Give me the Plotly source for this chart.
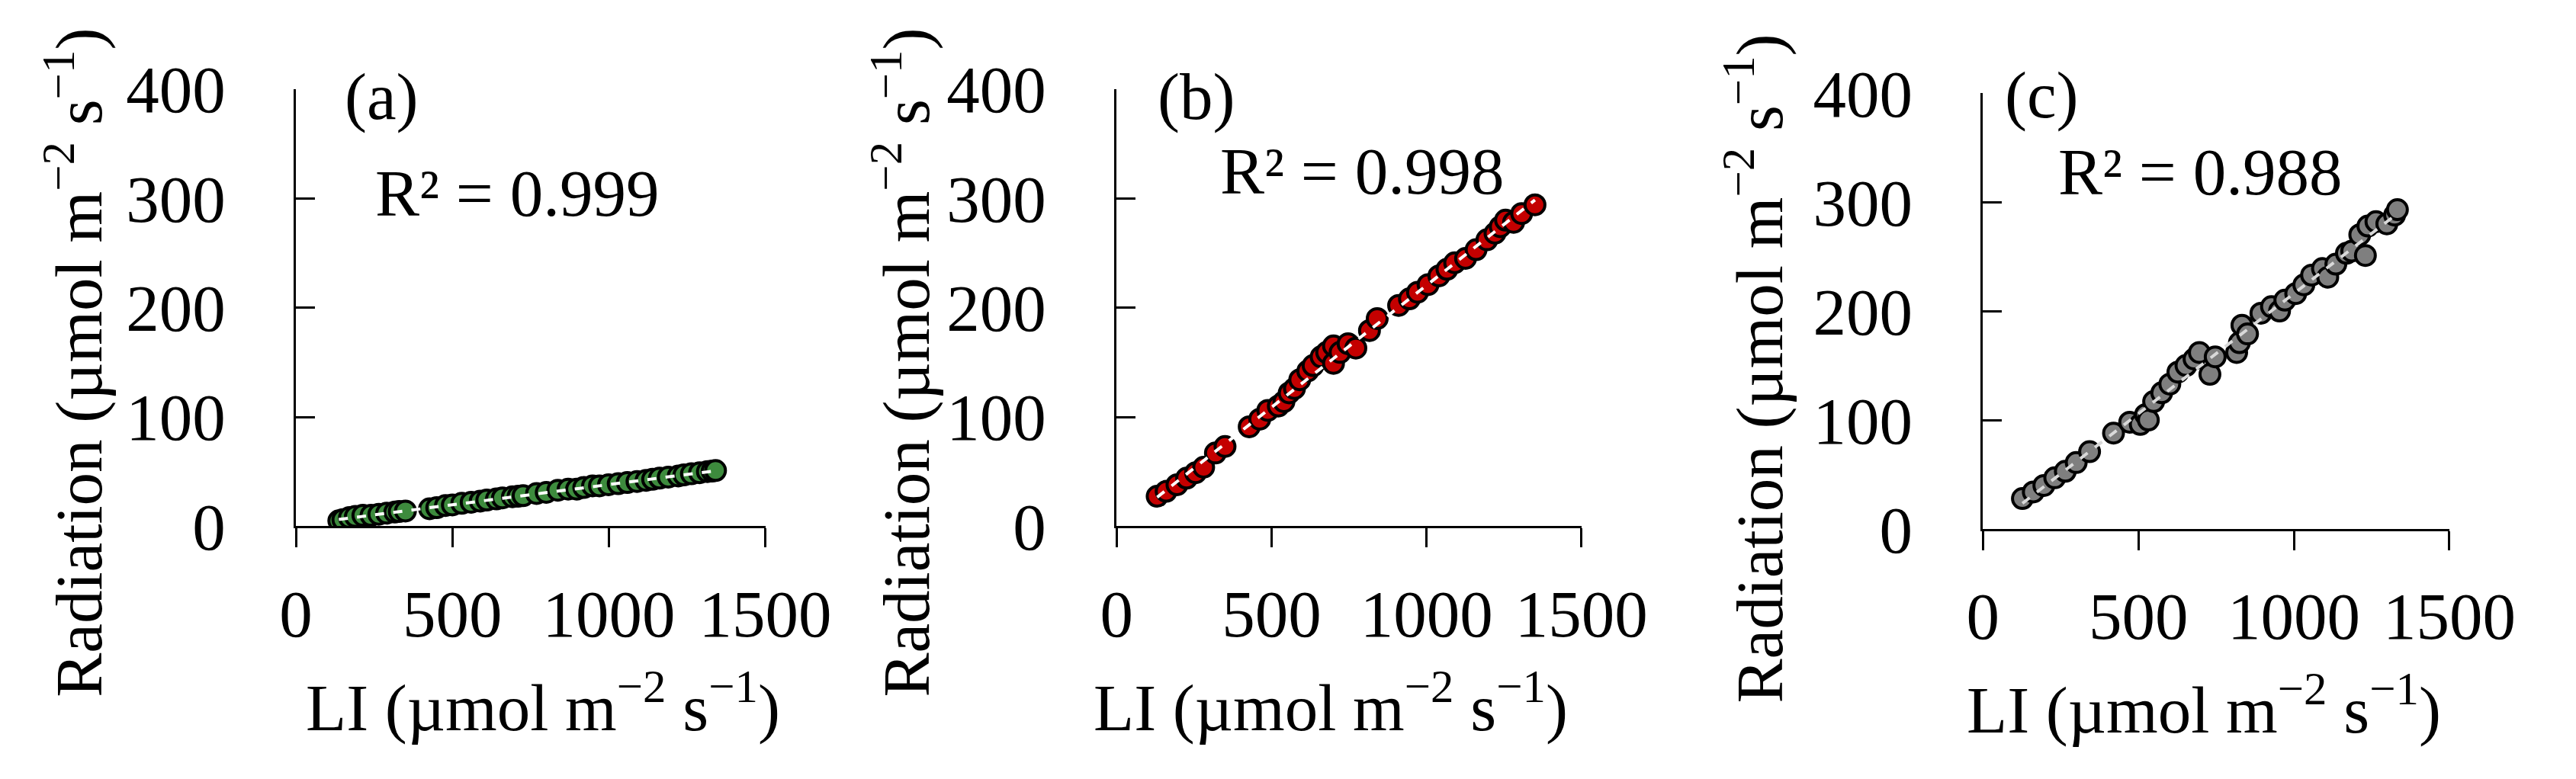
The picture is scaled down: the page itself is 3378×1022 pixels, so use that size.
import numpy as np
import plotly.graph_objects as go

# ---------------- data ----------------
li_a = [137, 150, 171, 190, 214, 240, 265, 290, 316, 330, 350, 427, 450, 478,
        500, 530, 560, 589, 610, 641, 660, 692, 710, 726, 769, 800, 837, 870,
        897, 920, 948, 970, 999, 1030, 1059, 1090, 1119, 1140, 1162, 1190,
        1222, 1240, 1264, 1290, 1315, 1330, 1341]
rad_a = [5, 6, 8, 9, 10, 10, 11, 12, 13, 13.5, 14, 16, 17, 19,
         19.5, 21, 22, 23, 24, 25, 26, 27, 27.5, 28, 30, 31, 33, 34,
         34, 35.5, 37, 37, 38, 39, 40, 41, 42, 43, 44, 45,
         46, 47, 48, 49, 50, 50.5, 51]

li_b = [131, 160, 195, 226, 255, 281, 319, 350, 428, 462, 488, 522, 540, 557,
        574, 591, 617, 634, 660, 678, 700, 700, 721, 747, 772, 816, 841, 910,
        945, 971, 1005, 1040, 1066, 1091, 1126, 1160, 1195, 1221, 1238, 1255,
        1281, 1307, 1350]
rad_b = [27.5, 32, 38, 44, 49, 54, 67, 73, 91, 98, 106, 110, 114, 122,
         126, 134, 142, 147, 155, 159, 165, 149, 159, 167, 163, 179, 190, 202,
         208, 214, 221, 229, 235, 241, 245, 253, 262, 268, 274, 280,
         278, 286, 294]

li_c = [127, 162, 196, 231, 265, 300, 343, 420, 472, 506, 523, 532, 549, 575,
        601, 627, 653, 679, 696, 730, 747, 816, 825, 833, 851, 894, 928, 954,
        971, 1006, 1032, 1057, 1092, 1109, 1135, 1169, 1186, 1230, 1212, 1238,
        1264, 1299, 1324, 1333]
rad_c = [28, 34, 40, 47, 53, 61, 71, 88, 98, 96, 105, 100, 117, 125,
         133, 144, 150, 156, 162, 142, 158, 162, 171, 187, 179, 198, 204, 200,
         210, 216, 224, 233, 239, 231, 243, 253, 255, 251, 270, 278,
         282, 280, 288, 293]

panel_labels = ["(a)", "(b)", "(c)"]
r2_labels = ["R² = 0.999", "R² = 0.998", "R² = 0.988"]
x_ticks = [0, 500, 1000, 1500]
y_ticks = [0, 100, 200, 300, 400]

# ---------------- layout helpers ----------------
W, H = 3378, 1022
def px(x):
    return x / W
def py(y):
    return 1 - y / H

FONT = "Liberation Serif, Times New Roman, serif"
FS = 87

panels = [
    dict(li=li_a, rad=rad_a, fill="#3d8b3d", trend="white",
         xd=(370, 1006), yd=(67, 701),
         lab=(486, 78), r2=(670, 218), ytit=(70, 464), xtit=(705, 957)),
    dict(li=li_b, rad=rad_b, fill="#c40000", trend="white",
         xd=(1482, 2112), yd=(67, 701),
         lab=(1590, 78), r2=(1815, 186), ytit=(1191, 464), xtit=(1772, 957)),
    dict(li=li_c, rad=rad_c, fill="#7f7f7f", trend="#d9d9d9",
         xd=(2656, 3288), yd=(73, 705),
         lab=(2736, 76), r2=(2950, 187), ytit=(2347, 472), xtit=(2955, 960)),
]

fig = go.Figure()
annotations = []
for i, p in enumerate(panels):
    n = "" if i == 0 else str(i + 1)
    xa, ya = "x" + n, "y" + n
    fig.add_trace(go.Scatter(
        x=p["li"], y=p["rad"], mode="markers", xaxis=xa, yaxis=ya,
        marker=dict(size=26, color=p["fill"], line=dict(color="black", width=4)),
        showlegend=False))
    k, b = np.polyfit(p["li"], p["rad"], 1)
    xs = np.array([min(p["li"]), max(p["li"])])
    fig.add_trace(go.Scatter(
        x=xs, y=k * xs + b, mode="lines", xaxis=xa, yaxis=ya,
        line=dict(color=p["trend"], width=4, dash="dash"), showlegend=False))

    axis_common = dict(showgrid=False, zeroline=False, showline=True,
                       linecolor="black", linewidth=3, tickcolor="black",
                       tickwidth=3, ticklen=25,
                       tickfont=dict(family=FONT, size=FS, color="black"))
    fig.layout["xaxis" + n] = dict(
        domain=[px(p["xd"][0]), px(p["xd"][1])], range=[0, 1500],
        tickvals=x_ticks, ticks="outside", anchor=ya,
        ticklabelstandoff=12, **axis_common)
    fig.layout["yaxis" + n] = dict(
        domain=[py(p["yd"][1]), py(p["yd"][0])], range=[0, 400],
        tickvals=y_ticks, ticks="inside", anchor=xa,
        ticklabelstandoff=72, **axis_common)

    tf = dict(family=FONT, size=FS, color="black")
    annotations += [
        dict(text=panel_labels[i], x=px(p["lab"][0]), y=py(p["lab"][1]),
             xref="paper", yref="paper", showarrow=False, font=tf,
             xanchor="center", yanchor="middle"),
        dict(text=r2_labels[i], x=px(p["r2"][0]), y=py(p["r2"][1]),
             xref="paper", yref="paper", showarrow=False, font=tf,
             xanchor="center", yanchor="middle"),
        dict(text="Radiation (µmol m<sup>−2</sup> s<sup>−1</sup>)",
             x=px(p["ytit"][0]), y=py(p["ytit"][1]), textangle=-90,
             xref="paper", yref="paper", showarrow=False, font=tf,
             xanchor="center", yanchor="middle"),
        dict(text="LI (µmol m<sup>−2</sup> s<sup>−1</sup>)",
             x=px(p["xtit"][0]), y=py(p["xtit"][1]),
             xref="paper", yref="paper", showarrow=False, font=tf,
             xanchor="center", yanchor="middle"),
    ]

fig.update_layout(width=W, height=H, margin=dict(l=0, r=0, t=0, b=0),
                  paper_bgcolor="white", plot_bgcolor="white",
                  annotations=annotations)
fig.write_html("out.html")
